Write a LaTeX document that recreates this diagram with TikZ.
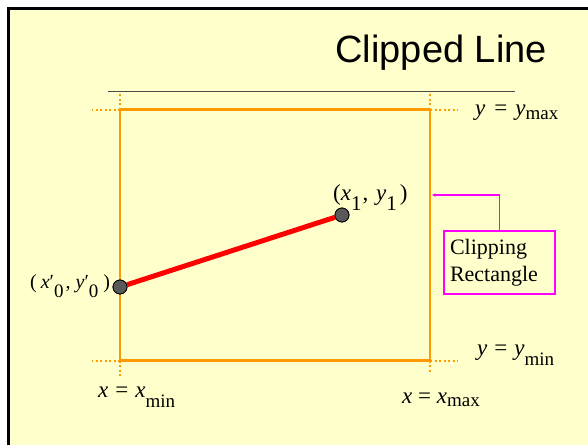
\documentclass[tikz,border=0pt]{standalone}
\usepackage{fontspec}
\setmainfont{Liberation Serif}
\newfontfamily\titlefont{Liberation Sans}
\usetikzlibrary{arrows.meta}
\definecolor{paper}{HTML}{FFFFCC}
\definecolor{clipor}{HTML}{FF9900}
\definecolor{clipmag}{HTML}{FF00FF}
\newcommand{\lowsub}[3][19]{\raisebox{-#2pt}{\fontsize{#1}{#1}\selectfont #3}}
\tikzset{
  edgeline/.style={clipor, line width=2.6pt},
  dotline/.style={clipor, line width=2pt, dash pattern=on 2pt off 2.5pt},
  endpt/.style={circle, draw=black, line width=0.8pt, fill=black!65, minimum size=14pt, inner sep=0pt},
  lbl/.style={anchor=base west, inner sep=0pt, font=\fontsize{23}{25}\selectfont},
  clipbox/.style={draw=clipmag, line width=1.6pt, minimum width=111pt, minimum height=63pt,
    text width=99pt, inner xsep=6pt, align=left, font=\fontsize{22}{27}\selectfont},
  conn/.style={clipmag, line width=1.6pt, -{Latex[length=4pt, width=3.5pt]}}
}
\begin{document}
\begin{tikzpicture}[x=1pt, y=-1pt]
	\useasboundingbox (0,0) rectangle (588,444);
	\clip (0,0) rectangle (588,444);
	% Paths, nodes and wires:
	\draw[line width=3pt, fill=paper] (8.5,8.5) rectangle (620,480);
	\node[anchor=base east, inner sep=0pt, font=\titlefont\fontsize{38}{40}\selectfont] (title) at (547,63) {Clipped Line};
	\coordinate (barl) at (108,91.5);
	\coordinate (barr) at (515,91.5);
	\draw[black!70, line width=1.8pt] (barl) -- (barr);
	\coordinate (tl) at (120,109.5);
	\coordinate (tr) at (430,109.5);
	\coordinate (bl) at (120,360.5);
	\coordinate (br) at (430,360.5);
	\draw[dotline] (tl) -- ++(-28,0);
	\draw[dotline] (tl) -- ++(0,-18);
	\draw[dotline] (tr) -- ++(28,0);
	\draw[dotline] (tr) -- ++(0,-18);
	\draw[dotline] (bl) -- ++(-28,0);
	\draw[dotline] (bl) -- ++(0,17);
	\draw[dotline] (br) -- ++(28,0);
	\draw[dotline] (br) -- ++(0,13);
	\draw[edgeline] (tl) -- (tr) -- (br) -- (bl) -- cycle;
	\node[endpt] (p0) at (120,287) {};
	\node[endpt] (p1) at (342,215) {};
	\draw[red, line width=5pt] (p0) -- (p1);
	\node[endpt] at (p0) {};
	\node[endpt] at (p1) {};
	\node[lbl] (p1lbl) at (333,200) {(\textit{x}\lowsub[21]{10}{1}\kern1pt, \kern2pt\textit{y}\lowsub[21]{10}{1}\kern3pt)};
	\node[lbl, font=\fontsize{20}{22}\selectfont] (p0lbl) at (30,288) {(\kern4pt\textit{x}′\lowsub[19]{9}{0}\kern2pt, \textit{y}′\lowsub[19]{9}{0}\kern5pt)};
	\node[lbl] (ymax) at (475,115) {\textit{y}\hspace{9pt}=\hspace{8pt}\textit{y}\lowsub{4}{max}};
	\node[lbl] (ymin) at (477,355) {\textit{y}\hspace{7pt}=\hspace{7pt}\textit{y}\lowsub{10}{min}};
	\node[lbl] (xmin) at (98,397) {\textit{x}\hspace{7pt}=\hspace{7pt}\textit{x}\lowsub{10}{min}};
	\node[lbl] (xmax) at (402,403) {\textit{x} = \textit{x}\lowsub{3}{max}};
	\node[clipbox] (clip) at (499.5,262.5) {Clipping\\Rectangle};
	\coordinate (tip) at (431.5,195);
	\draw[conn] (clip.north) |- (tip);
\end{tikzpicture}
\end{document}
